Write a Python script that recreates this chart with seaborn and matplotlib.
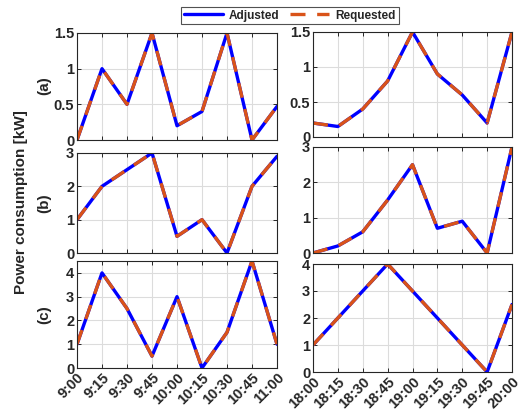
import matplotlib
matplotlib.use("Agg")
import matplotlib.pyplot as plt
import seaborn as sns
import pandas as pd
import numpy as np

sns.set_theme(style="white")
plt.rcParams['font.family'] = ['Liberation Sans', 'DejaVu Sans']
plt.rcParams['font.weight'] = 'bold'

times_morning = ["9:00", "9:15", "9:30", "9:45", "10:00", "10:15", "10:30", "10:45", "11:00"]
times_evening = ["18:00", "18:15", "18:30", "18:45", "19:00", "19:15", "19:30", "19:45", "20:00"]

a_morning = [0, 1.0, 0.5, 1.5, 0.2, 0.4, 1.5, 0.0, 0.47]
a_evening = [0.2, 0.15, 0.4, 0.8, 1.5, 0.9, 0.6, 0.2, 1.5]
b_morning = [1.0, 2.0, 2.5, 3.0, 0.5, 1.0, 0.0, 2.0, 2.9]
b_evening = [0.0, 0.2, 0.6, 1.5, 2.5, 0.7, 0.9, 0.0, 3.0]
c_morning = [1.0, 4.0, 2.5, 0.5, 3.0, 0.0, 1.5, 4.5, 1.0]
c_evening = [1.0, 2.0, 3.0, 4.0, 3.0, 2.0, 1.0, 0.0, 2.5]

row_labels = ["(a)", "(b)", "(c)"]
ylims_left = [(0, 1.5), (0, 3), (0, 4.5)]
ylims_right = [(0, 1.5), (0, 3), (0, 4)]
yticks_left = [[0, 0.5, 1, 1.5], [0, 1, 2, 3], [0, 1, 2, 3, 4]]
yticks_right = [[0, 0.5, 1, 1.5], [0, 1, 2, 3], [0, 1, 2, 3, 4]]
ytl = [["0", "0.5", "1", "1.5"], ["0", "1", "2", "3"], ["0", "1", "2", "3", "4"]]

W, H = 524, 411
fig = plt.figure(figsize=(W / 100, H / 100), dpi=100)

def box(x0, y0, x1, y1):
    return [x0 / W, 1 - y1 / H, (x1 - x0) / W, (y1 - y0) / H]

left_boxes = [box(77, 33, 277, 140), box(77, 153, 277, 253), box(77, 261, 277, 368)]
right_boxes = [box(313, 32, 512, 137), box(313, 147, 512, 253), box(313, 264, 512, 372)]

blue = "#0000FF"
orange = "#D95319"

left_data = [a_morning, b_morning, c_morning]
right_data = [a_evening, b_evening, c_evening]

def draw(ax, vals, labels, ylim, yt, ytlab, show_x):
    idx = np.arange(len(vals))
    df = pd.DataFrame({"t": idx, "Adjusted": vals, "Requested": vals})
    sns.lineplot(data=df, x="t", y="Adjusted", ax=ax, color=blue, lw=2.4, label="Adjusted", legend=False)
    sns.lineplot(data=df, x="t", y="Requested", ax=ax, color=orange, lw=2.4, label="Requested", legend=False)
    ax.lines[1].set_dashes([4.5, 3.5])
    ax.set_xlim(0, len(vals) - 1)
    ax.set_ylim(*ylim)
    ax.set_xticks(idx)
    ax.set_yticks(yt)
    ax.set_yticklabels(ytlab, fontsize=10.5, fontweight='bold')
    if show_x:
        ax.set_xticklabels(labels, rotation=45, ha='right', rotation_mode='anchor', fontsize=10.5, fontweight='bold')
    else:
        ax.set_xticklabels([])
    ax.set_xlabel("")
    ax.set_ylabel("")
    ax.grid(True, color="#DCDCDC", lw=0.8)
    ax.set_axisbelow(True)
    ax.tick_params(direction='in', length=3, width=0.7, top=True, right=True, bottom=True, left=True,
                   colors="#262626", pad=2)
    for s in ax.spines.values():
        s.set_visible(True)
        s.set_color("#262626")
        s.set_linewidth(0.8)

axes_left = []
for i in range(3):
    ax = fig.add_axes(left_boxes[i])
    draw(ax, left_data[i], times_morning, ylims_left[i], yticks_left[i], ytl[i], i == 2)
    axes_left.append(ax)
    ax2 = fig.add_axes(right_boxes[i])
    draw(ax2, right_data[i], times_evening, ylims_right[i], yticks_right[i], ytl[i], i == 2)

row_centers = [86, 203, 315]
for lab, yc in zip(row_labels, row_centers):
    fig.text(44 / W, 1 - yc / H, lab, rotation=90, ha='center', va='center', fontsize=11, fontweight='bold')

fig.text(21 / W, 1 - 202 / H, "Power consumption [kW]", rotation=90, ha='center', va='center',
         fontsize=11, fontweight='bold')

handles = axes_left[0].lines[:2]
leg = fig.legend(handles, ["Adjusted", "Requested"], loc='center', bbox_to_anchor=(290 / W, 1 - 15.5 / H),
                 ncol=2, frameon=True, fancybox=False, edgecolor="#262626",
                 prop={'weight': 'bold', 'size': 8.5}, handlelength=3.3, columnspacing=0.9,
                 borderpad=0.25, handletextpad=0.5, borderaxespad=0)
leg.get_frame().set_linewidth(0.8)

fig.savefig("out.png", dpi=100, facecolor="white")
